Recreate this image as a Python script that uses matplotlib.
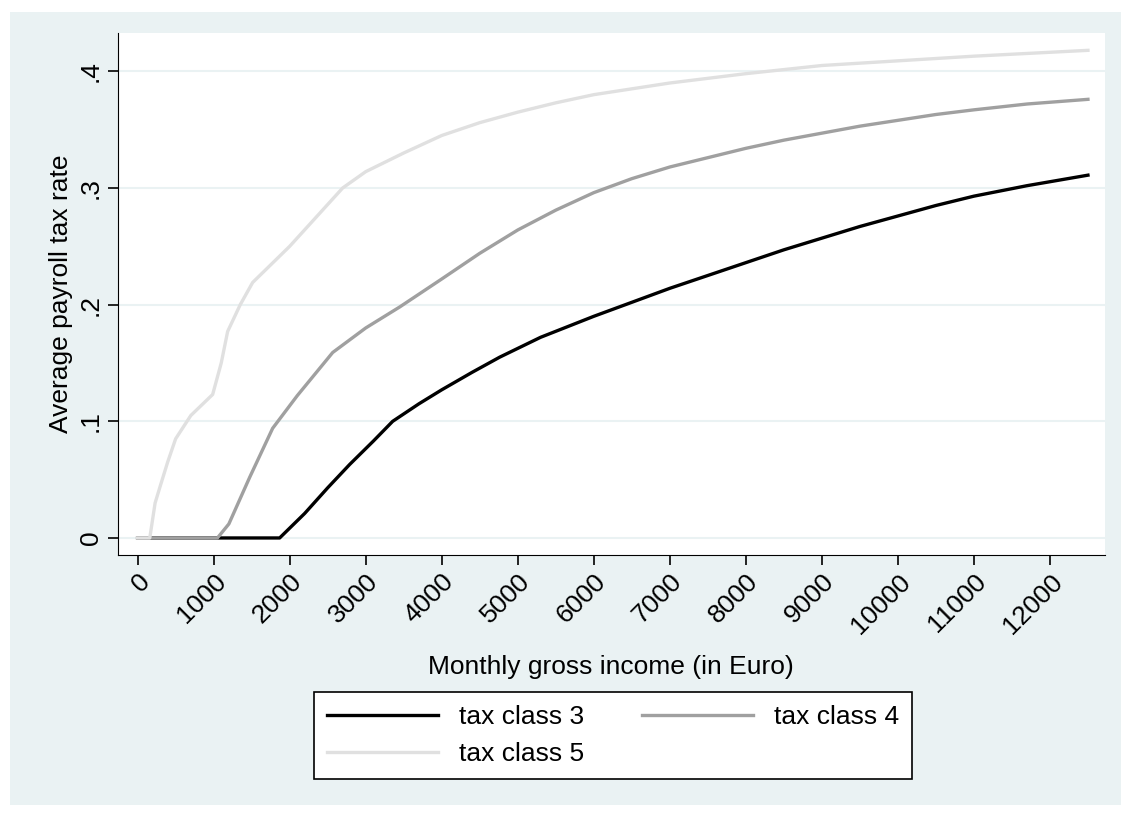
import matplotlib
matplotlib.use("Agg")
import matplotlib.pyplot as plt
from matplotlib.patches import Rectangle

plt.rcParams["font.family"] = ["Liberation Sans", "DejaVu Sans"]

# values
inc3 = [0, 1050, 1868, 2197, 2500, 2789, 3100, 3355, 3700, 4000, 4400, 4763, 5300, 6000, 6500,
        7000, 7500, 8000, 8500, 9000, 9500, 10000, 10500, 11000, 11700, 12500]
rate3 = [0, 0, 0, .021, .043, .063, .083, .10, .115, .127, .142, .155, .172, .19, .202,
         .214, .225, .236, .247, .257, .267, .276, .285, .293, .302, .311]
inc4 = [0, 1050, 1200, 1474, 1776, 2100, 2566, 3000, 3447, 4000, 4500, 5000, 5500, 6000, 6500, 7000,
        7500, 8000, 8500, 9000, 9500, 10000, 10500, 11000, 11700, 12500]
rate4 = [0, 0, .012, .052, .094, .122, .159, .18, .198, .222, .244, .264, .281, .296, .308, .318,
         .326, .334, .341, .347, .353, .358, .363, .367, .372, .376]
inc5 = [0, 160, 230, 300, 395, 500, 700, 987, 1100, 1184, 1350, 1513, 2000, 2697, 3000, 3500,
        4000, 4500, 5000, 5500, 6000, 7000, 8000, 9000, 10000, 11000, 12500]
rate5 = [0, 0, .03, .045, .065, .085, .105, .123, .15, .177, .200, .219, .25, .30, .314, .33,
         .345, .356, .365, .373, .38, .39, .398, .405, .409, .413, .418]

bg = "#eaf2f3"
fig = plt.figure(figsize=(11.31, 8.21), dpi=100)
fig.patch.set_facecolor("white")
fig.patches.append(Rectangle((10 / 1131, 0.02), 1 - 20 / 1131, 0.965, transform=fig.transFigure,
                             facecolor=bg, edgecolor="none", zorder=-1))

ax = fig.add_axes([0.104, 0.324, 0.873, 0.636])
ax.set_facecolor("white")
l3, = ax.plot(inc3, rate3, color="black", lw=2.4, label="tax class 3")
l4, = ax.plot(inc4, rate4, color="#a0a0a0", lw=2.4, label="tax class 4")
l5, = ax.plot(inc5, rate5, color="#e0e0e0", lw=2.4, label="tax class 5")

ax.set_xlim(-263, 12724)
ax.set_ylim(-0.0146, 0.433)
ax.set_xticks(range(0, 12001, 1000))
ax.set_xticklabels([str(v) for v in range(0, 12001, 1000)], rotation=45, ha="right",
                   rotation_mode="anchor", fontsize=19)
ax.set_yticks([0, .1, .2, .3, .4])
ax.set_yticklabels(["0", ".1", ".2", ".3", ".4"], rotation=90, va="center", fontsize=19)
ax.grid(axis="y", color=bg, lw=1.5)
ax.set_axisbelow(True)
for s in ["top", "right"]:
    ax.spines[s].set_visible(False)
ax.tick_params(length=7, width=1.2)
ax.set_xlabel("Monthly gross income (in Euro)", fontsize=19, labelpad=12)
ax.set_ylabel("Average payroll tax rate", fontsize=19)

leg = fig.legend([l3, l5, l4], ["tax class 3", "tax class 5", "tax class 4"], loc="center",
                 bbox_to_anchor=(0.542, 0.104), ncol=2, fontsize=19,
                 handlelength=4.2, columnspacing=2.2, frameon=True, fancybox=False,
                 edgecolor="black", facecolor="white", framealpha=1, borderpad=0.5)
leg.get_frame().set_linewidth(1.2)

fig.savefig("out.png", dpi=100, facecolor=fig.get_facecolor())
